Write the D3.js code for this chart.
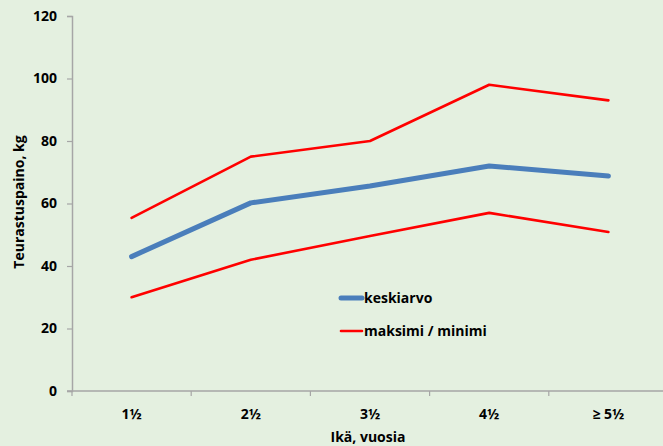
<!DOCTYPE html>
<html>
<head>
<meta charset="utf-8">
<script src="https://cdn.jsdelivr.net/npm/d3@7"></script>
<style>
  html, body { margin: 0; padding: 0; background: #e4f0e0; }
  svg { display: block; font-family: "Open Sans", sans-serif; }
</style>
</head>
<body>
<svg id="chart" width="663" height="446"></svg>
<script>
// Slaughter weight by age class
const categories = ["1½", "2½", "3½", "4½", "≥ 5½"];
const meanValues = [43, 60.2, 65.6, 72, 68.8];
const maxValues = [55.4, 75, 80, 98, 93];
const minValues = [30, 42, 49.6, 57, 50.9];
const yTicks = [0, 20, 40, 60, 80, 100, 120];

const svg = d3.select("#chart");
const W = 663, H = 446;
svg.append("rect").attr("width", W).attr("height", H).attr("fill", "#e4f0e0");

const plotLeft = 72, plotTop = 16, plotBottom = 391, plotRight = 668;
const fontFamily = "'Open Sans', sans-serif";
const fontSize = 14;

const x = d3.scaleBand().domain(categories).range([plotLeft, plotRight]);
const y = d3.scaleLinear().domain([0, 120]).range([plotBottom, plotTop]);

const axisColor = "#a6a6a6";

// Y axis
const yAxis = svg.append("g")
  .attr("transform", `translate(${plotLeft},0)`)
  .call(d3.axisLeft(y).tickValues(yTicks).tickSize(5).tickPadding(10));
yAxis.select(".domain").attr("stroke", axisColor).attr("stroke-width", 1.5);
yAxis.selectAll(".tick line").attr("stroke", axisColor).attr("stroke-width", 1.2);
yAxis.selectAll(".tick text")
  .attr("fill", "#000").attr("font-size", fontSize).attr("font-weight", "bold")
  .attr("font-family", fontFamily);

// X axis: ticks at band boundaries
const xg = svg.append("g").attr("transform", `translate(0,${plotBottom})`);
xg.append("line").attr("x1", plotLeft - 5).attr("x2", W).attr("y1", 0).attr("y2", 0)
  .attr("stroke", axisColor).attr("stroke-width", 1.5);
categories.forEach(c => {
  xg.append("line").attr("x1", x(c)).attr("x2", x(c)).attr("y1", 0).attr("y2", 5)
    .attr("stroke", axisColor).attr("stroke-width", 1.2);
  xg.append("text").attr("x", x(c) + x.bandwidth() / 2).attr("y", 28)
    .attr("text-anchor", "middle").attr("font-size", fontSize).attr("font-weight", "bold")
    .text(c);
});

// Axis titles
svg.append("text")
  .attr("transform", `translate(24,202) rotate(-90)`)
  .attr("text-anchor", "middle").attr("font-size", fontSize).attr("font-weight", "bold")
  .text("Teurastuspaino, kg");
svg.append("text")
  .attr("x", (plotLeft + plotRight) / 2 - 2).attr("y", 442)
  .attr("text-anchor", "middle").attr("font-size", fontSize).attr("font-weight", "bold")
  .text("Ikä, vuosia");

// Lines
const line = d3.line()
  .x((d, i) => x(categories[i]) + x.bandwidth() / 2)
  .y(d => y(d));

[maxValues, minValues].forEach(vals => {
  svg.append("path").datum(vals).attr("d", line)
    .attr("fill", "none").attr("stroke", "#ff0000").attr("stroke-width", 2.6)
    .attr("stroke-linejoin", "round").attr("stroke-linecap", "round");
});
svg.append("path").datum(meanValues).attr("d", line)
  .attr("fill", "none").attr("stroke", "#4a7ebb").attr("stroke-width", 5)
  .attr("stroke-linejoin", "round").attr("stroke-linecap", "round");

// Legend
const legend = [
  { label: "keskiarvo", color: "#4a7ebb", width: 5, yPos: 298 },
  { label: "maksimi / minimi", color: "#ff0000", width: 2.6, yPos: 331 }
];
legend.forEach(l => {
  svg.append("line").attr("x1", 341).attr("x2", 362).attr("y1", l.yPos).attr("y2", l.yPos)
    .attr("stroke", l.color).attr("stroke-width", l.width).attr("stroke-linecap", "round");
  svg.append("text").attr("x", 364).attr("y", l.yPos + 5)
    .attr("font-size", fontSize).attr("font-weight", "bold").text(l.label);
});
</script>
</body>
</html>
